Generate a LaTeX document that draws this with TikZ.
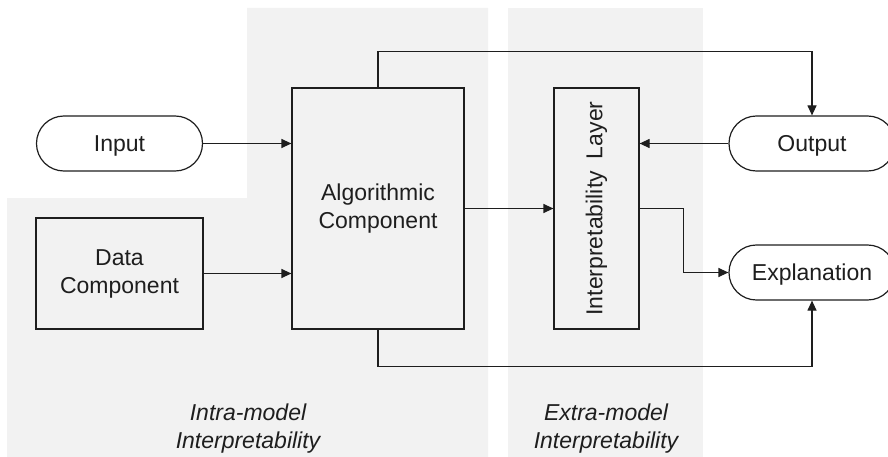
\documentclass[tikz,border=0pt]{standalone}
\usepackage{fontspec}
\setmainfont{Liberation Sans}
\usetikzlibrary{arrows.meta}
\definecolor{regionfill}{HTML}{F2F2F2}
\definecolor{ink}{HTML}{1E1E1E}
\begin{document}
\begin{tikzpicture}[x=1pt,y=-1pt,
  every node/.style={font=\fontsize{23}{28}\selectfont, text=ink},
  block/.style={draw=ink, line width=1.2pt, inner sep=0pt, align=center},
  terminal/.style={block, fill=white, rounded corners=27.4pt,
    minimum width=166pt, minimum height=55pt, text height=16.5pt, text depth=0pt},
  link/.style={draw=ink, line width=1.2pt},
  arr/.style={link, -{Triangle[length=10pt,width=9pt]}},
  regionlabel/.style={font=\fontsize{23}{28}\selectfont\itshape, align=center}
]
\useasboundingbox (0,0) rectangle (888,457);

% shaded regions
\fill[regionfill] (247,8) -- (488,8) -- (488,457) -- (7,457) -- (7,198) -- (247,198) -- cycle;
\fill[regionfill] (508,8) rectangle (703,457);

% blocks
\node[terminal] (input) at (119.5,143.5) {Input};
\node[block, minimum width=167pt, minimum height=111pt] (data) at (119.5,273.5) {Data\\Component};
\node[block, minimum width=172pt, minimum height=241pt] (alg) at (378,208.5) {Algorithmic\\Component};
\node[block, minimum width=85pt, minimum height=241pt] (interp) at (596.5,208.5) {};
\node[rotate=90] (interplabel) at (interp.center) {Interpretability\hspace{12pt}Layer};
\node[terminal] (output) at (812,143.5) {Output};
\node[terminal] (expl) at (812,272.5) {Explanation};

% connectors
\draw[arr] (input.east) -- (input.east -| alg.west);
\draw[arr] (data.east) -- (data.east -| alg.west);
\draw[arr] (alg.east) -- (interp.west);
\draw[arr] (output.west) -- (output.west -| interp.east);
\draw[arr] (alg.north) -- ++(0,-36) -| (output.north);
\draw[arr] (interp.east) -- ++(44,0) |- (expl.west);
\draw[arr] (alg.south) -- ++(0,37) -| (expl.south);

% region captions
\node[regionlabel] (intralabel) at (248,429) {Intra-model\\Interpretability};
\node[regionlabel] (extralabel) at (606,429) {Extra-model\\Interpretability};
\end{tikzpicture}
\end{document}
